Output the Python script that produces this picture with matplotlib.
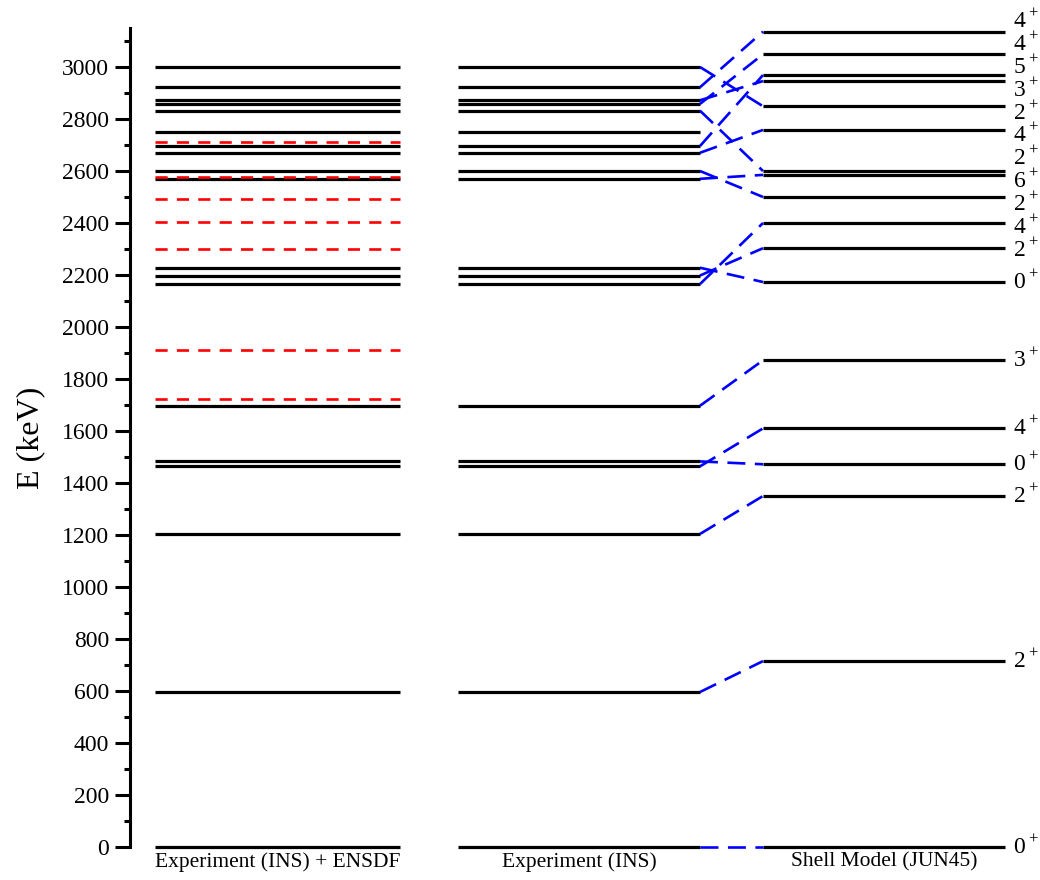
import matplotlib.pyplot as plt
from matplotlib.ticker import MultipleLocator

# level energies in keV
EXP_LEVELS = [0, 596, 1204, 1464, 1483, 1697, 2165, 2198, 2228, 2570, 2600,
              2670, 2696, 2750, 2832, 2858, 2872, 2922, 3000]
ENSDF_LEVELS = [1723, 1910, 2300, 2405, 2491, 2577, 2713]
SM_LEVELS = [0, 715, 1350, 1472, 1610, 1872, 2173, 2303, 2400, 2500, 2585,
             2600, 2758, 2849, 2946, 2969, 3049, 3136]
SM_SPINS = ["0", "2", "2", "0", "4", "3", "0", "2", "4", "2", "6",
            "2", "4", "2", "3", "5", "4", "4"]

# experimental level -> shell model level it is matched to
LINK_EXP = [0, 596, 1204, 1464, 1483, 1697, 2165, 2198, 2228, 2570, 2600,
            2670, 2696, 2832, 2858, 2872, 2922, 3000]
LINK_SM = [0, 715, 1350, 1610, 1472, 1872, 2400, 2303, 2173, 2585, 2500,
           2758, 2969, 2600, 3049, 2946, 3136, 2849]

COLUMN_NAMES = ["Experiment (INS) + ENSDF", "Experiment (INS)", "Shell Model (JUN45)"]

# layout (x in units of 100 px from the axis)
COLUMNS = [(0.25, 2.70), (3.28, 5.70), (6.33, 8.75)]
LABEL_X = 8.83
MIN_GAP = 88


def spread_labels(levels, gap):
    pos = sorted(levels)
    for _ in range(500):
        moved = False
        for i in range(len(pos) - 1):
            d = pos[i + 1] - pos[i]
            if d < gap - 0.01:
                shift = (gap - d) / 2
                pos[i] -= shift
                pos[i + 1] += shift
                moved = True
        if not moved:
            break
    return pos


def main():
    plt.rcParams["font.family"] = ["Liberation Serif", "DejaVu Serif"]
    plt.rcParams["mathtext.fontset"] = "custom"
    plt.rcParams["mathtext.rm"] = "Liberation Serif"

    fig = plt.figure(figsize=(10.4, 8.8), dpi=100)
    ax = fig.add_axes([130 / 1040, 33 / 880, 910 / 1040, 819 / 880])

    line_kw = dict(color="black", lw=2.3, solid_capstyle="butt", clip_on=False)

    # column 1: INS + ENSDF
    x0, x1 = COLUMNS[0]
    for e in EXP_LEVELS:
        ax.plot([x0, x1], [e, e], **line_kw)
    for e in ENSDF_LEVELS:
        ax.plot([x0, x1], [e, e], color="red", lw=1.9, dashes=(4.6, 3.5),
                clip_on=False)

    # column 2: INS
    x0, x1 = COLUMNS[1]
    for e in EXP_LEVELS:
        ax.plot([x0, x1], [e, e], **line_kw)

    # column 3: shell model
    x0, x1 = COLUMNS[2]
    for e in SM_LEVELS:
        ax.plot([x0, x1], [e, e], **line_kw)

    # connectors
    for e, s in zip(LINK_EXP, LINK_SM):
        ax.plot([COLUMNS[1][1], COLUMNS[2][0]], [e, s], color="blue", lw=1.9,
                dashes=(6.8, 3.6), clip_on=False)

    # spin labels
    order = sorted(range(len(SM_LEVELS)), key=lambda i: SM_LEVELS[i])
    label_y = spread_labels([SM_LEVELS[i] for i in order], MIN_GAP)
    for i, y in zip(order, label_y):
        ax.text(LABEL_X, y, f"{SM_SPINS[i]}$^+$", fontsize=17, va="center",
                ha="left", clip_on=False)

    ax.set_xlim(0, 9.1)
    ax.set_ylim(0, 3150)
    ax.yaxis.set_major_locator(MultipleLocator(200))
    ax.yaxis.set_minor_locator(MultipleLocator(100))
    ax.tick_params(axis="y", which="major", length=11, width=2.2,
                   labelsize=17, direction="out", pad=4)
    ax.tick_params(axis="y", which="minor", length=4.5, width=2.2,
                   direction="out")
    ax.set_xticks([(a + b) / 2 for a, b in COLUMNS])
    ax.set_xticklabels(COLUMN_NAMES, fontsize=15.5)
    ax.tick_params(axis="x", length=0, pad=4)

    for side in ["top", "right", "bottom"]:
        ax.spines[side].set_visible(False)
    ax.spines["left"].set_linewidth(2.2)

    ax.set_ylabel("E (keV)", fontsize=23, labelpad=12)

    fig.savefig("out.png", dpi=100)
    plt.close(fig)


if __name__ == "__main__":
    main()
